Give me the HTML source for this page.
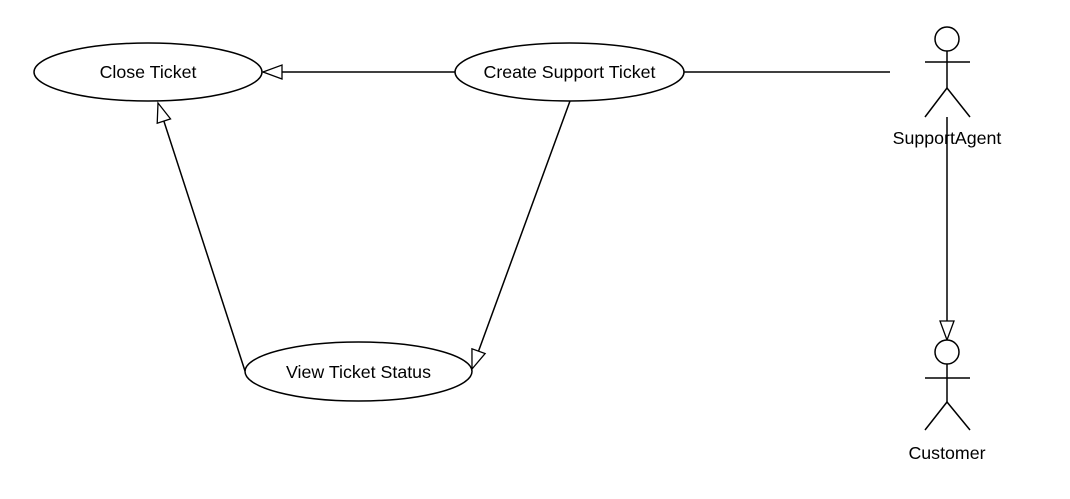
<!DOCTYPE html>
<html><head><meta charset="utf-8"><style>
html,body{margin:0;padding:0;background:#fff;}
svg{display:block;}
text{font-family:"Liberation Sans",Arial,sans-serif;font-size:17.8px;fill:#000;}
</style></head><body>
<svg width="1070" height="499" viewBox="0 0 1070 499" xmlns="http://www.w3.org/2000/svg">
<defs>
<marker id="tri" markerWidth="22" markerHeight="18" refX="20" refY="8" orient="auto" markerUnits="userSpaceOnUse">
<path d="M1,1 L20,8 L1,15 Z" fill="#fff" stroke="#000" stroke-width="1.3"/>
</marker>
</defs>
<g stroke="#000" stroke-width="1.5" fill="#fff">
<ellipse cx="148" cy="72" rx="114" ry="29"/>
<ellipse cx="569.5" cy="72" rx="114.5" ry="29"/>
<ellipse cx="358.5" cy="371.5" rx="113.5" ry="29.5"/>
<line x1="455" y1="72" x2="263" y2="72" marker-end="url(#tri)"/>
<line x1="245" y1="371" x2="158" y2="103" marker-end="url(#tri)"/>
<line x1="570" y1="101" x2="472" y2="369" marker-end="url(#tri)"/>
<line x1="684" y1="72" x2="890" y2="72"/>
<circle cx="947" cy="39" r="12"/>
<line x1="947" y1="51" x2="947" y2="88"/>
<line x1="925" y1="62" x2="970" y2="62"/>
<polyline points="925,117 947,88 970,117" fill="none"/>
<line x1="947" y1="117" x2="947" y2="340" marker-end="url(#tri)"/>
<circle cx="947" cy="352" r="12"/>
<line x1="947" y1="364" x2="947" y2="402"/>
<line x1="925" y1="378" x2="970" y2="378"/>
<polyline points="925,430 947,402 970,430" fill="none"/>
</g>
<text x="148" y="78" text-anchor="middle">Close Ticket</text>
<text x="569.5" y="78" text-anchor="middle">Create Support Ticket</text>
<text x="358.5" y="378" text-anchor="middle">View Ticket Status</text>
<text x="947" y="144" text-anchor="middle">SupportAgent</text>
<text x="947" y="459" text-anchor="middle">Customer</text>
</svg>
</body></html>
